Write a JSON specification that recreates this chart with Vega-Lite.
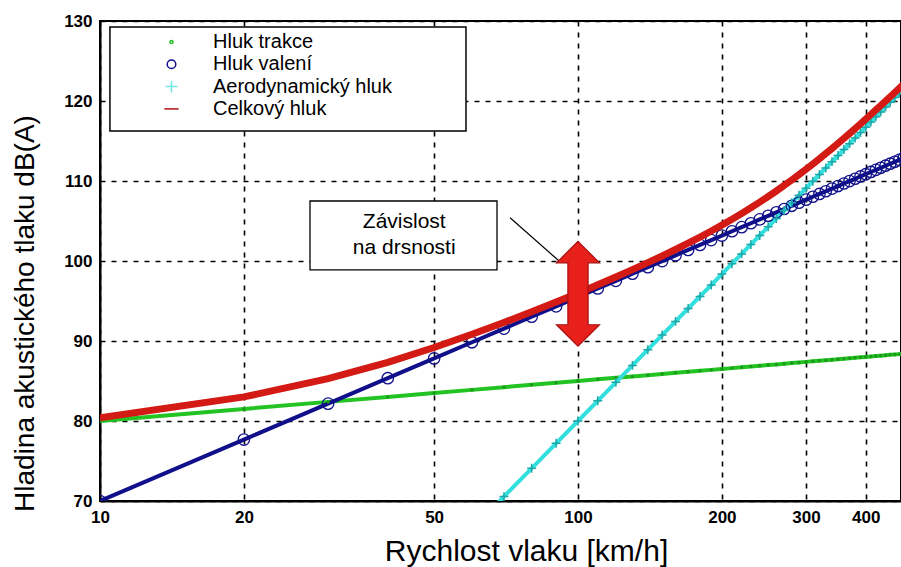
{
  "$schema": "https://vega.github.io/schema/vega-lite/v6.json",
  "autosize": "none",
  "width": 801,
  "height": 480,
  "padding": {"left": 100, "top": 21, "right": 0, "bottom": 66},
  "background": "white",
  "datasets": {
    "curves": [
      {"v":10,"g":80.00,"b":70.00,"c":null,"t":80.41},
      {"v":20,"g":81.51,"b":77.68,"c":null,"t":83.01},
      {"v":30,"g":82.39,"b":82.17,"c":null,"t":85.29},
      {"v":40,"g":83.01,"b":85.35,"c":null,"t":87.34},
      {"v":50,"g":83.49,"b":87.82,"c":null,"t":89.19},
      {"v":60,"g":83.89,"b":89.84,"c":66.47,"t":90.84},
      {"v":70,"g":84.23,"b":91.55,"c":70.55,"t":92.32},
      {"v":80,"g":84.52,"b":93.03,"c":74.09,"t":93.65},
      {"v":90,"g":84.77,"b":94.33,"c":77.21,"t":94.86},
      {"v":100,"g":85.00,"b":95.50,"c":80.00,"t":95.98},
      {"v":110,"g":85.21,"b":96.56,"c":82.52,"t":97.02},
      {"v":120,"g":85.40,"b":97.52,"c":84.83,"t":97.99},
      {"v":130,"g":85.57,"b":98.41,"c":86.95,"t":98.92},
      {"v":140,"g":85.73,"b":99.23,"c":88.91,"t":99.79},
      {"v":150,"g":85.88,"b":99.99,"c":90.74,"t":100.63},
      {"v":160,"g":86.02,"b":100.71,"c":92.45,"t":101.44},
      {"v":170,"g":86.15,"b":101.38,"c":94.06,"t":102.23},
      {"v":180,"g":86.28,"b":102.01,"c":95.57,"t":102.99},
      {"v":190,"g":86.39,"b":102.61,"c":97.00,"t":103.75},
      {"v":200,"g":86.51,"b":103.18,"c":98.36,"t":104.49},
      {"v":210,"g":86.61,"b":103.72,"c":99.66,"t":105.22},
      {"v":220,"g":86.71,"b":104.23,"c":100.89,"t":105.94},
      {"v":230,"g":86.81,"b":104.72,"c":102.07,"t":106.65},
      {"v":240,"g":86.90,"b":105.20,"c":103.19,"t":107.36},
      {"v":250,"g":86.99,"b":105.65,"c":104.27,"t":108.06},
      {"v":260,"g":87.07,"b":106.08,"c":105.31,"t":108.75},
      {"v":270,"g":87.16,"b":106.50,"c":106.31,"t":109.44},
      {"v":280,"g":87.24,"b":106.90,"c":107.28,"t":110.13},
      {"v":290,"g":87.31,"b":107.29,"c":108.21,"t":110.80},
      {"v":300,"g":87.39,"b":107.67,"c":109.10,"t":111.47},
      {"v":310,"g":87.46,"b":108.03,"c":109.97,"t":112.13},
      {"v":320,"g":87.53,"b":108.38,"c":110.81,"t":112.79},
      {"v":330,"g":87.59,"b":108.72,"c":111.63,"t":113.44},
      {"v":340,"g":87.66,"b":109.05,"c":112.42,"t":114.07},
      {"v":350,"g":87.72,"b":109.37,"c":113.19,"t":114.71},
      {"v":360,"g":87.78,"b":109.69,"c":113.93,"t":115.33},
      {"v":370,"g":87.84,"b":109.99,"c":114.66,"t":115.94},
      {"v":380,"g":87.90,"b":110.28,"c":115.37,"t":116.55},
      {"v":390,"g":87.96,"b":110.57,"c":116.05,"t":117.14},
      {"v":400,"g":88.01,"b":110.85,"c":116.73,"t":117.73},
      {"v":410,"g":88.06,"b":111.13,"c":117.38,"t":118.31},
      {"v":420,"g":88.12,"b":111.39,"c":118.02,"t":118.88},
      {"v":430,"g":88.17,"b":111.65,"c":118.64,"t":119.44},
      {"v":440,"g":88.22,"b":111.91,"c":119.25,"t":119.99},
      {"v":450,"g":88.27,"b":112.16,"c":119.85,"t":120.54},
      {"v":460,"g":88.31,"b":112.40,"c":120.43,"t":121.07},
      {"v":470,"g":88.36,"b":112.64,"c":121.00,"t":121.59},
      {"v":480,"g":88.41,"b":112.87,"c":121.56,"t":122.11}
    ]
  },
  "layer": [
    {
      "data": {"name": "curves"},
      "transform": [
        {"fold": ["g", "b", "c"], "as": ["line_series", "dB"]}
      ],
      "mark": {"type": "line", "clip": true, "strokeWidth": 4},
      "encoding": {
        "x": {"field": "v", "type": "quantitative", "title": "Rychlost vlaku [km/h]",
              "scale": {"type": "log", "domain": [10, 474], "nice": false},
              "axis": {"values": [10, 20, 50, 100, 200, 300, 400]}},
        "y": {"field": "dB", "type": "quantitative", "title": "Hladina akustického tlaku dB(A)",
              "scale": {"domain": [70, 130], "nice": false, "zero": false},
              "axis": {"values": [70, 80, 90, 100, 110, 120, 130]}},
        "stroke": {"field": "line_series", "type": "nominal", "legend": null,
                   "scale": {"domain": ["g", "b", "c"], "range": ["#22c322", "#10108a", "#33dede"]}}
      }
    },
    {
      "data": {"name": "curves"},
      "mark": {"type": "point", "clip": true, "filled": true, "color": "#1a9a1a", "size": 12, "opacity": 1},
      "encoding": {
        "x": {"field": "v", "type": "quantitative", "title": "Rychlost vlaku [km/h]"},
        "y": {"field": "g", "type": "quantitative", "title": "Hladina akustického tlaku dB(A)"}
      }
    },
    {
      "data": {"name": "curves"},
      "mark": {"type": "point", "clip": true, "filled": false, "color": "#10108a", "size": 130, "strokeWidth": 1.3, "opacity": 1},
      "encoding": {
        "x": {"field": "v", "type": "quantitative", "title": "Rychlost vlaku [km/h]"},
        "y": {"field": "b", "type": "quantitative", "title": "Hladina akustického tlaku dB(A)"}
      }
    },
    {
      "data": {"name": "curves"},
      "mark": {"type": "point", "clip": true, "filled": false, "color": "#1fa8a8", "shape": "M-1,0H1M0,-1V1", "size": 80, "strokeWidth": 1.5, "opacity": 1},
      "encoding": {
        "x": {"field": "v", "type": "quantitative", "title": "Rychlost vlaku [km/h]"},
        "y": {"field": "c", "type": "quantitative", "title": "Hladina akustického tlaku dB(A)"}
      }
    },
    {
      "data": {"name": "curves"},
      "mark": {"type": "line", "clip": true, "color": "#d41a14", "strokeWidth": 7},
      "encoding": {
        "x": {"field": "v", "type": "quantitative", "title": "Rychlost vlaku [km/h]"},
        "y": {"field": "t", "type": "quantitative", "title": "Hladina akustického tlaku dB(A)"}
      }
    },
    {
      "data": {"values": [{"x1": 10.49, "x2": 58.3, "y1": 116.25, "y2": 129.25}]},
      "mark": {"type": "rect", "fill": "white", "stroke": "black", "strokeWidth": 1.5},
      "encoding": {
        "x": {"field": "x1", "type": "quantitative", "title": "Rychlost vlaku [km/h]"},
        "x2": {"field": "x2"},
        "y": {"field": "y1", "type": "quantitative", "title": "Hladina akustického tlaku dB(A)"},
        "y2": {"field": "y2"}
      }
    },
    {
      "data": {"name": "curves"},
      "transform": [
        {"fold": ["g", "b", "c", "t"], "as": ["s", "dB"]}
      ],
      "mark": {"type": "point", "clip": true, "filled": false, "strokeWidth": 1.3, "opacity": 0},
      "encoding": {
        "x": {"field": "v", "type": "quantitative", "title": "Rychlost vlaku [km/h]"},
        "y": {"field": "dB", "type": "quantitative", "title": "Hladina akustického tlaku dB(A)"},
        "color": {"field": "s", "type": "nominal",
                  "scale": {"domain": ["g", "b", "c", "t"], "range": ["#22c322", "#10108a", "#6fe6e6", "#b01010"]},
                  "legend": {
                    "orient": "none", "legendX": 10, "legendY": 3, "title": null,
                    "strokeColor": null, "fillColor": null, "padding": 8,
                    "labelFontSize": 20, "labelFont": "Liberation Sans", "labelColor": "black", "labelLimit": 400,
                    "rowPadding": 2.3, "symbolOffset": 43.5, "labelOffset": 31.5, "symbolOpacity": 1,
                    "labelExpr": "datum.value == 'g' ? 'Hluk trakce' : datum.value == 'b' ? 'Hluk valení' : datum.value == 'c' ? 'Aerodynamický hluk' : 'Celkový hluk'",
                    "encode": {
                      "symbols": {
                        "fill": {"value": {"signal": "datum.value == 'g' ? '#22c322' : 'transparent'"}},
                        "stroke": {"value": {"signal": "datum.value == 'g' ? '#22c322' : datum.value == 'b' ? '#10105a' : datum.value == 'c' ? '#8fe6ee' : '#a81010'"}},
                        "opacity": {"value": 1}
                      }
                    }
                  }},
        "shape": {"field": "s", "type": "nominal",
                  "scale": {"domain": ["g", "b", "c", "t"], "range": ["circle", "circle", "M-1,0H1M0,-1V1", "stroke"]},
                  "legend": {
                    "orient": "none", "legendX": 10, "legendY": 3, "title": null,
                    "strokeColor": null, "fillColor": null, "padding": 8,
                    "labelFontSize": 20, "labelFont": "Liberation Sans", "labelColor": "black", "labelLimit": 400,
                    "rowPadding": 2.3, "symbolOffset": 43.5, "labelOffset": 31.5, "symbolOpacity": 1,
                    "labelExpr": "datum.value == 'g' ? 'Hluk trakce' : datum.value == 'b' ? 'Hluk valení' : datum.value == 'c' ? 'Aerodynamický hluk' : 'Celkový hluk'",
                    "encode": {
                      "symbols": {
                        "fill": {"value": {"signal": "datum.value == 'g' ? '#22c322' : 'transparent'"}},
                        "stroke": {"value": {"signal": "datum.value == 'g' ? '#22c322' : datum.value == 'b' ? '#10105a' : datum.value == 'c' ? '#8fe6ee' : '#a81010'"}},
                        "opacity": {"value": 1}
                      }
                    }
                  }},
        "size": {"field": "s", "type": "nominal",
                 "scale": {"domain": ["g", "b", "c", "t"], "range": [10, 200, 60, 1]},
                 "legend": {
                    "orient": "none", "legendX": 10, "legendY": 3, "title": null,
                    "strokeColor": null, "fillColor": null, "padding": 8,
                    "labelFontSize": 20, "labelFont": "Liberation Sans", "labelColor": "black", "labelLimit": 400,
                    "rowPadding": 2.3, "symbolOffset": 43.5, "labelOffset": 31.5, "symbolOpacity": 1,
                    "labelExpr": "datum.value == 'g' ? 'Hluk trakce' : datum.value == 'b' ? 'Hluk valení' : datum.value == 'c' ? 'Aerodynamický hluk' : 'Celkový hluk'",
                    "encode": {
                      "symbols": {
                        "fill": {"value": {"signal": "datum.value == 'g' ? '#22c322' : 'transparent'"}},
                        "stroke": {"value": {"signal": "datum.value == 'g' ? '#22c322' : datum.value == 'b' ? '#10105a' : datum.value == 'c' ? '#8fe6ee' : '#a81010'"}},
                        "opacity": {"value": 1}
                      }
                    }
                  }}
      }
    },
    {
      "data": {"values": [{"x1": 27.5, "x2": 67.7, "y1": 98.9, "y2": 107.5}]},
      "mark": {"type": "rect", "fill": "white", "stroke": "black", "strokeWidth": 1.3},
      "encoding": {
        "x": {"field": "x1", "type": "quantitative", "title": "Rychlost vlaku [km/h]"},
        "x2": {"field": "x2"},
        "y": {"field": "y1", "type": "quantitative", "title": "Hladina akustického tlaku dB(A)"},
        "y2": {"field": "y2"}
      }
    },
    {
      "data": {"values": [{"x": 43.3, "y": 104.9, "label": "Závislost"}, {"x": 43.3, "y": 101.6, "label": "na drsnosti"}]},
      "mark": {"type": "text", "fontSize": 21, "font": "Liberation Sans", "color": "black", "align": "center", "baseline": "middle"},
      "encoding": {
        "x": {"field": "x", "type": "quantitative", "title": "Rychlost vlaku [km/h]"},
        "y": {"field": "y", "type": "quantitative", "title": "Hladina akustického tlaku dB(A)"},
        "text": {"field": "label"}
      }
    },
    {
      "data": {"values": [{"x1": 72.1, "y1": 105.4, "x2": 91.7, "y2": 99.9}]},
      "mark": {"type": "rule", "color": "black", "strokeWidth": 1.2},
      "encoding": {
        "x": {"field": "x1", "type": "quantitative", "title": "Rychlost vlaku [km/h]"},
        "x2": {"field": "x2"},
        "y": {"field": "y1", "type": "quantitative", "title": "Hladina akustického tlaku dB(A)"},
        "y2": {"field": "y2"}
      }
    },
    {
      "data": {"values": [{"x": 100, "y": 95.9}]},
      "mark": {"type": "point", "filled": true, "fill": "#e8201c", "stroke": "#a81010", "strokeWidth": 1.2, "opacity": 1,
               "shape": "M0,-2.44L1,-1.44L0.47,-1.44L0.47,1.44L1,1.44L0,2.44L-1,1.44L-0.47,1.44L-0.47,-1.44L-1,-1.44Z", "size": 1849},
      "encoding": {
        "x": {"field": "x", "type": "quantitative", "title": "Rychlost vlaku [km/h]"},
        "y": {"field": "y", "type": "quantitative", "title": "Hladina akustického tlaku dB(A)"}
      }
    }
  ],
  "config": {
    "font": "Liberation Sans",
    "view": {"stroke": "black", "strokeWidth": 2, "fill": "white"},
    "axis": {
      "gridColor": "black", "gridDash": [5, 6], "gridWidth": 1.6, "gridOpacity": 1,
      "domainColor": "black", "domainWidth": 2, "ticks": false,
      "labelColor": "black", "labelFontSize": 17, "labelFontWeight": "bold", "labelFont": "Liberation Sans",
      "titleColor": "black", "titleFontWeight": "normal", "titleFont": "Liberation Sans"
    },
    "axisX": {"labelPadding": 8, "titleFontSize": 30, "titleX": 426, "titleY": 59, "titleBaseline": "alphabetic",
              "labelOverlap": false, "labelBound": false, "labelFlush": false},
    "axisY": {"labelPadding": 8, "titleFontSize": 28, "titleX": -67, "titleY": 292, "titleBaseline": "alphabetic",
              "labelOverlap": false, "labelBound": false, "labelFlush": false}
  }
}
